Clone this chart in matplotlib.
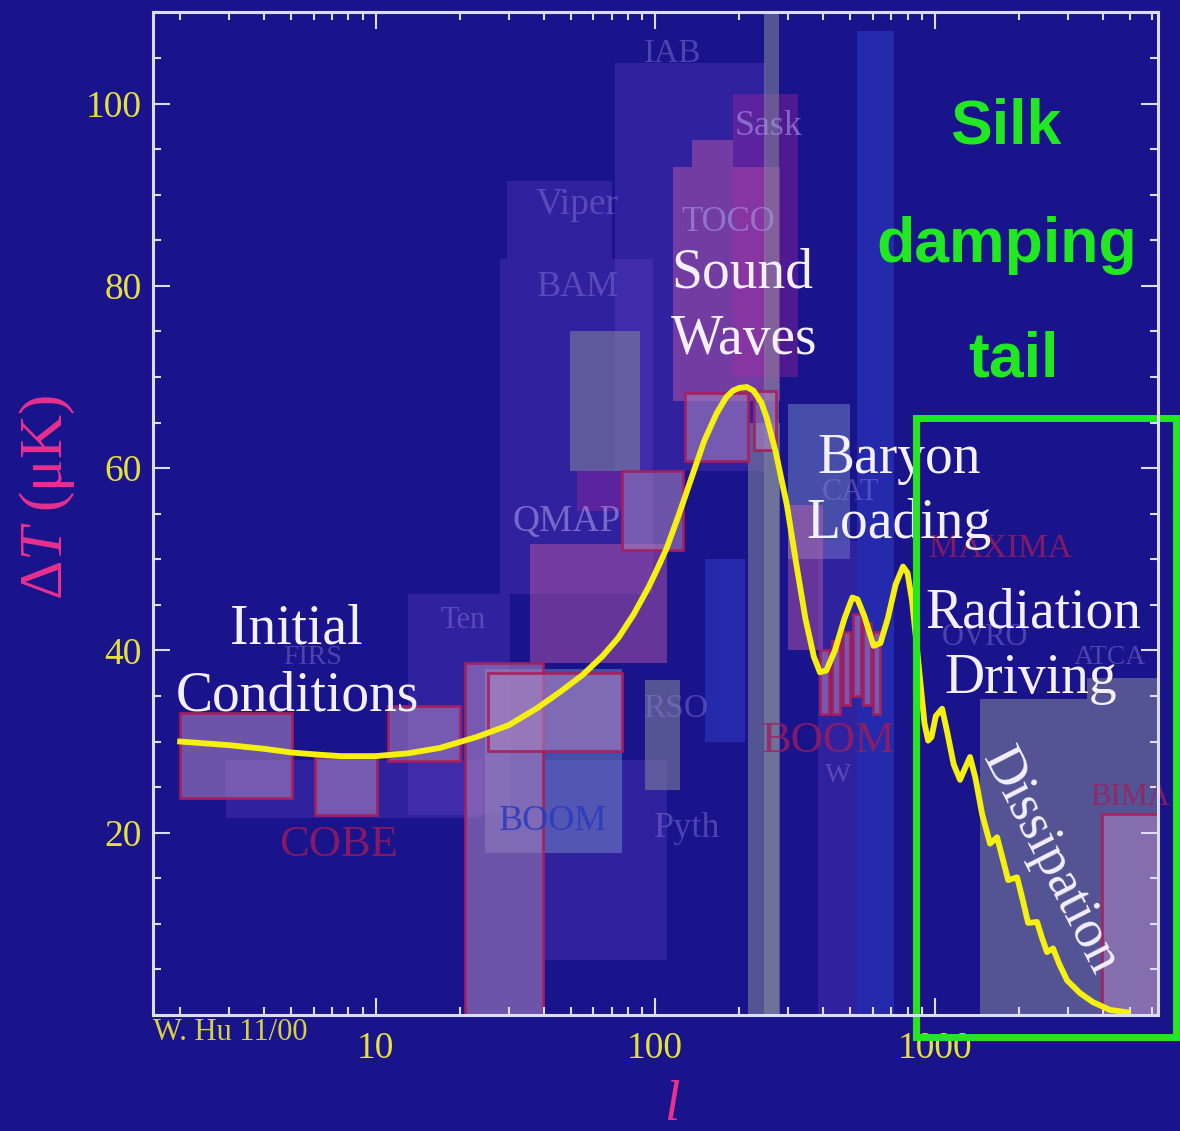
import matplotlib
matplotlib.use("Agg")
import matplotlib.pyplot as plt
from matplotlib.colors import to_rgba
from matplotlib.ticker import FixedLocator, FixedFormatter, LogLocator, MultipleLocator, NullFormatter

# theory curve: multipole l vs Delta T (uK)
ell = [2, 3, 4, 5, 6, 7.5, 10, 13, 17, 23, 30, 38, 46, 55, 65, 74, 84, 95, 101, 110,
       122, 137, 150, 166, 180, 190, 200, 213, 225, 240, 251, 270, 296, 320, 345, 370,
       389, 410, 440, 476, 508, 530, 560, 605, 640, 680, 725, 771, 800, 830, 860, 888,
       920, 948, 975, 1010, 1064, 1110, 1170, 1233, 1290, 1339, 1400, 1480, 1579, 1673,
       1750, 1833, 1973, 2060, 2160, 2326, 2420, 2524, 2653, 2800, 2978, 3313, 3687,
       4243, 4883]
delta_t = [30.0, 29.6, 29.2, 28.8, 28.6, 28.4, 28.4, 28.7, 29.3, 30.5, 31.8, 33.7, 35.5,
           37.3, 39.4, 41.4, 44.0, 47.0, 48.7, 51.2, 55.0, 59.5, 63.0, 66.0, 67.8, 68.5,
           68.8, 68.9, 68.5, 67.2, 65.5, 61.8, 56.0, 49.5, 43.5, 39.3, 37.6, 37.8, 40.0,
           43.5, 45.8, 45.6, 43.8, 40.5, 40.8, 43.5, 47.2, 49.2, 48.5, 45.5, 41.0, 36.7,
           32.0, 30.1, 30.5, 32.8, 33.6, 31.0, 27.5, 25.8, 27.2, 28.3, 26.0, 22.0, 18.8,
           19.5, 17.2, 14.8, 15.1, 12.8, 10.1, 10.2, 8.5, 6.9, 7.3, 5.5, 3.8, 2.4, 1.4,
           0.55, 0.3]

# experiment band powers drawn as boxes: l range and Delta T range
box_l_lo = [2.92, 13.1, 39.7, 27.9, 29.5, 72, 49.6, 24.6, 35.7, 52.6, 116, 136, 190,
            92, 151, 300, 383, 528, 215, 245, 1455, 3515,
            2.0, 6.07, 11.1, 20.9, 25.3, 76.2, 128, 225, 300,
            390, 430, 470, 510, 555, 600, 3976]
box_l_hi = [24, 30.3, 110, 98.4, 70, 250, 88, 76, 110, 76.2, 280, 190, 325,
            123, 210, 500, 528, 715, 280, 278, 3515, 7000,
            5.03, 10.1, 20.0, 39.7, 76.2, 126, 215, 270, 400,
            420, 460, 500, 545, 590, 640, 7000]
box_t_lo = [21.6, 21.9, 6.0, 46.2, 83.0, 59.7, 59.7, 17.8, 38.6, 55.3, 67.4, 93.0, 70.0,
            24.7, 30.0, 50.0, 0, 0, 0, 0, 0, 0,
            23.8, 21.9, 27.9, 0, 29.0, 51.0, 60.8, 62.0, 40.0,
            33.0, 33.0, 34.0, 35.0, 34.0, 33.0, 0]
box_t_hi = [28.0, 46.2, 28.0, 83.0, 91.5, 104.4, 75.0, 38.0, 51.7, 59.7, 93.0, 96.0, 101.0,
            36.7, 50.0, 67.0, 52.0, 108.0, 65.0, 110.0, 34.7, 37.0,
            33.1, 28.3, 33.9, 38.6, 37.5, 59.7, 68.2, 68.5, 56.0,
            40.0, 41.0, 42.0, 44.0, 43.0, 42.0, 22.1]
box_look = ['faint', 'faint', 'faint', 'faint', 'faint', 'faint', 'grey', 'bluegrey', 'pink',
            'purple', 'pink', 'pink', 'purple', 'grey', 'blue', 'bluegrey', 'faint', 'blue',
            'grey', 'grey', 'grey', 'grey',
            'lav', 'lav', 'lav', 'lav', 'lav', 'lav', 'lav', 'lav', 'pink',
            'lav', 'lav', 'lav', 'lav', 'lav', 'lav', 'lav']

# faded experiment names
exp_names = ['COBE', 'FIRS', 'Ten', 'BOOM', 'Pyth', 'QMAP', 'BAM', 'Viper', 'IAB', 'Sask',
             'TOCO', 'RSO', 'CAT', 'BOOM', 'W', 'MAXIMA', 'OVRO', 'ATCA', 'BIMA']
exp_l = [7.35, 5.97, 20.6, 43.2, 130, 48.4, 53.1, 52.6, 115, 254, 182, 118, 499, 416, 452,
         1714, 1517, 4250, 5000]
exp_t = [18.6, 39.2, 43.3, 21.2, 20.5, 54.1, 79.8, 88.9, 105.5, 97.5, 86.9, 33.6, 57.3,
         30.1, 26.3, 51.2, 41.4, 39.2, 23.9]
exp_look = ['red', 'faint', 'faint', 'blue', 'faint', 'light', 'faint', 'faint', 'faint',
            'light', 'light', 'faint', 'faint', 'red', 'faint', 'red', 'faint', 'faint', 'red']
exp_size = [32, 20, 22, 26, 26, 27, 26, 27, 24, 26, 25, 24, 22, 32, 20, 24, 22, 20, 22]

plt.rcParams['mathtext.fontset'] = 'custom'
plt.rcParams['mathtext.rm'] = 'Liberation Serif'
plt.rcParams['mathtext.it'] = 'Liberation Serif:italic'
serif = 'Liberation Serif'

bg = '#19148c'
fig = plt.figure(figsize=(11.8, 11.31), dpi=100, facecolor=bg)
ax = fig.add_axes([0.1297, 0.1026, 0.8517, 0.8864], facecolor=bg)
ax.set_xscale('log')
ax.set_xlim(1.6, 6300)
ax.set_ylim(0, 110)

looks = {
    'faint':    (to_rgba('#6c46cf', 0.28), 'none'),
    'grey':     (to_rgba('#85899d', 0.55), 'none'),
    'bluegrey': (to_rgba('#87a0d2', 0.42), 'none'),
    'pink':     (to_rgba('#d967ad', 0.40), 'none'),
    'purple':   (to_rgba('#af28a0', 0.35), 'none'),
    'blue':     (to_rgba('#4164ff', 0.28), 'none'),
    'lav':      (to_rgba('#a680be', 0.60), to_rgba('#aa1e5a', 0.9)),
}
for i in range(len(box_l_lo)):
    face, edge = looks[box_look[i]]
    ax.bar(box_l_lo[i], box_t_hi[i] - box_t_lo[i], width=box_l_hi[i] - box_l_lo[i],
           bottom=box_t_lo[i], align='edge', color=face, edgecolor=edge,
           linewidth=2 if edge != 'none' else 0, zorder=1 + i * 0.01)

label_colors = {'red': to_rgba('#a01c5c', 0.8), 'blue': to_rgba('#2a3cc0', 0.9),
                'faint': to_rgba('#8c7ed8', 0.45), 'light': to_rgba('#a898e8', 0.6)}
for name, lx, ty, lk, sz in zip(exp_names, exp_l, exp_t, exp_look, exp_size):
    ax.text(lx, ty, name, color=label_colors[lk], fontsize=sz, family=serif,
            ha='center', va='center', zorder=2)

ax.plot(ell, delta_t, color='#f5f010', lw=4.2, solid_joinstyle='round', zorder=3)

white = '#f4f0ff'
big = dict(color=white, fontsize=40, family=serif, ha='center', va='baseline', zorder=4)
ax.text(5.19, 40.8, 'Initial', **big)
ax.text(5.25, 33.4, 'Conditions', **big)
ax.text(205, 79.8, 'Sound', **big)
ax.text(208, 72.5, 'Waves', **big)
ax.text(747, 59.5, 'Baryon', **big)
ax.text(747, 52.3, 'Loading', **big)
ax.text(2250, 42.5, 'Radiation', **big)
ax.text(2214, 35.3, 'Driving', **big)
ax.text(2588, 16.8, 'Dissipation', color=white, fontsize=39, family=serif,
        ha='center', va='center', rotation=-63, zorder=4)

green = '#22e822'
gtxt = dict(color=green, fontsize=45, family='Liberation Sans', weight='bold',
            ha='center', va='baseline', zorder=4)
ax.text(1802, 95.6, 'Silk', **gtxt)
ax.text(1817, 82.6, 'damping', **gtxt)
ax.text(1911, 70.1, 'tail', **gtxt)

# green frame around the damping tail
ax.add_patch(plt.Rectangle((860, -2.4), 7310 - 860, 65.5 + 2.4, fill=False,
                           edgecolor=green, lw=5, clip_on=False, zorder=5))

# axes, ticks
axis_c = '#dcdcff'
for s in ax.spines.values():
    s.set_color(axis_c)
    s.set_linewidth(2.2)
    s.set_zorder(6)
ax.xaxis.set_major_locator(FixedLocator([10, 100, 1000]))
ax.xaxis.set_major_formatter(FixedFormatter(['10', '100', '1000']))
ax.xaxis.set_minor_locator(LogLocator(base=10, subs=range(2, 10)))
ax.xaxis.set_minor_formatter(NullFormatter())
ax.yaxis.set_major_locator(FixedLocator([20, 40, 60, 80, 100]))
ax.yaxis.set_major_formatter(FixedFormatter(['20', '40', '60', '80', '100']))
ax.yaxis.set_minor_locator(MultipleLocator(5))
ax.tick_params(which='both', direction='in', top=True, right=True, color=axis_c,
               labelcolor='#e6e03c', labelsize=27, width=1.5)
ax.tick_params(which='major', length=12)
ax.tick_params(which='minor', length=6)
ax.tick_params(axis='x', pad=12)
ax.tick_params(axis='y', pad=8)
for lab in ax.get_xticklabels() + ax.get_yticklabels():
    lab.set_family(serif)

fig.text(47 / 1180, 1 - 497 / 1131, r'$\Delta T$ (μK)', color='#e8308f', fontsize=44,
         family=serif, rotation=90, ha='center', va='center')
fig.text(672 / 1180, 1 - 1120 / 1131, 'l', color='#e8308f', fontsize=40, family=serif,
         style='italic', ha='center', va='baseline')
fig.text(153 / 1180, 1 - 1033 / 1131, 'W. Hu 11/00', color='#d8d040', fontsize=22,
         family=serif, ha='left', va='center')

fig.savefig('out.png', dpi=100, facecolor=bg)
